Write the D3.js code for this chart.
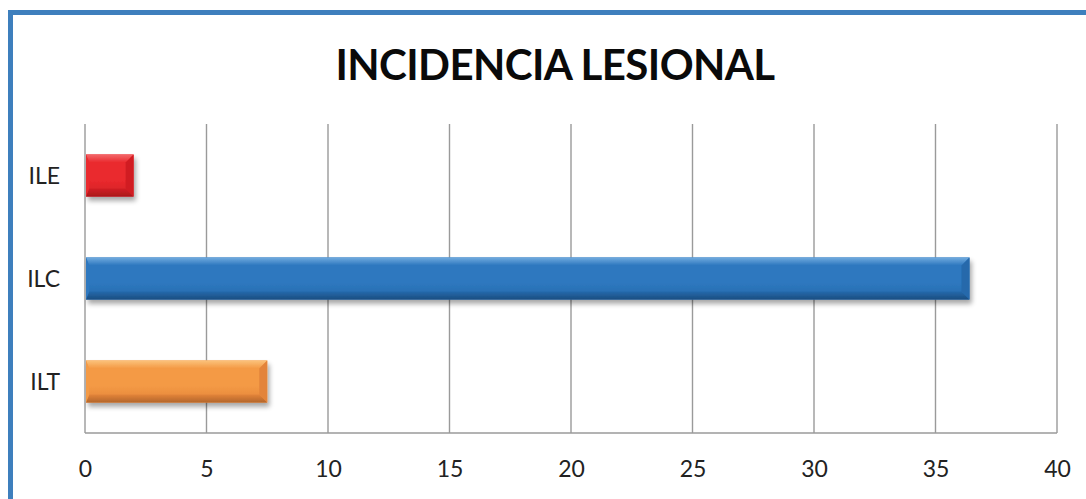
<!DOCTYPE html>
<html>
<head>
<meta charset="utf-8">
<script src="https://cdn.jsdelivr.net/npm/d3@7"></script>
<style>
  html, body { margin: 0; padding: 0; background: #fff; }
  svg { display: block; }
</style>
</head>
<body>
<svg id="chart" width="1086" height="499"></svg>
<script>
// Injury incidence indices
const categories = ["ILE", "ILC", "ILT"];
const values = [2, 36.4, 7.5];
const xTicks = [0, 5, 10, 15, 20, 25, 30, 35, 40];
const title = "INCIDENCIA LESIONAL";

// Bar palettes: [highlight, base, shade, dark edge]
const palettes = {
  ILE: ["#f36a6b", "#ea2a2e", "#d11f24", "#a9181b"],
  ILC: ["#72acdf", "#2e78bf", "#2569ab", "#1b4d80"],
  ILT: ["#fbc37c", "#f49a45", "#e3843a", "#b2652a"]
};

const W = 1086, H = 499;
const margin = { left: 85, right: 29, top: 124, bottom: 66 };
const svg = d3.select("#chart");
const defs = svg.append("defs");

// Frame
svg.append("path")
  .attr("d", `M10.5,${H + 5} V12.5 H${W + 5}`)
  .attr("fill", "none")
  .attr("stroke", "#3e7fbd")
  .attr("stroke-width", 5);

// Title
svg.append("text")
  .attr("x", 555)
  .attr("y", 80)
  .attr("text-anchor", "middle")
  .attr("font-family", "Lato, 'Open Sans', sans-serif")
  .attr("font-weight", 700)
  .attr("font-size", 42)
  .attr("letter-spacing", -0.6)
  .attr("fill", "#0a0a0a")
  .text(title);

const x = d3.scaleLinear().domain([0, 40]).range([margin.left, W - margin.right]);
const y = d3.scaleBand().domain(categories)
  .range([margin.top, H - margin.bottom])
  .paddingInner(0.59).paddingOuter(0.295);

// Vertical gridlines
svg.append("g")
  .selectAll("line")
  .data(xTicks)
  .join("line")
  .attr("x1", d => x(d)).attr("x2", d => x(d))
  .attr("y1", y.range()[0]).attr("y2", y.range()[1])
  .attr("stroke", "#9a9a9a")
  .attr("stroke-width", 1.4);

// Bottom axis line
svg.append("line")
  .attr("x1", x(0)).attr("x2", x(40))
  .attr("y1", y.range()[1]).attr("y2", y.range()[1])
  .attr("stroke", "#9a9a9a").attr("stroke-width", 1.4);

// X tick labels
const xAxis = d3.axisBottom(x).tickValues(xTicks).tickSize(0).tickPadding(0);
const gx = svg.append("g")
  .attr("transform", `translate(0,${y.range()[1] + 44})`)
  .call(xAxis);
gx.select(".domain").remove();
gx.selectAll("text")
  .attr("dy", 0)
  .attr("font-family", "Lato, 'Open Sans', sans-serif")
  .attr("font-size", 23)
  .attr("fill", "#222");

// Category labels
const yAxis = d3.axisLeft(y).tickSize(0).tickPadding(25);
const gy = svg.append("g")
  .attr("transform", `translate(${x(0)},0)`)
  .call(yAxis);
gy.select(".domain").remove();
gy.selectAll("text")
  .attr("dy", "0.35em")
  .attr("font-family", "Lato, 'Open Sans', sans-serif")
  .attr("font-size", 23)
  .attr("fill", "#222");

// Drop shadow for bars
const shadow = defs.append("filter").attr("id", "barShadow")
  .attr("x", "-10%").attr("y", "-30%").attr("width", "125%").attr("height", "180%");
shadow.append("feGaussianBlur").attr("in", "SourceAlpha").attr("stdDeviation", 2.5).attr("result", "blur");
shadow.append("feOffset").attr("dx", 2).attr("dy", 4).attr("result", "off");
shadow.append("feComponentTransfer").append("feFuncA").attr("type", "linear").attr("slope", 0.35);
const merge = shadow.append("feMerge");
merge.append("feMergeNode");
merge.append("feMergeNode").attr("in", "SourceGraphic");

// Face gradients
categories.forEach(c => {
  const p = palettes[c];
  const g = defs.append("linearGradient").attr("id", "face-" + c)
    .attr("x1", 0).attr("y1", 0).attr("x2", 0).attr("y2", 1);
  g.append("stop").attr("offset", "0%").attr("stop-color", p[1]);
  g.append("stop").attr("offset", "60%").attr("stop-color", p[1]);
  g.append("stop").attr("offset", "100%").attr("stop-color", p[2]);
  const t = defs.append("linearGradient").attr("id", "top-" + c)
    .attr("x1", 0).attr("y1", 0).attr("x2", 0).attr("y2", 1);
  t.append("stop").attr("offset", "0%").attr("stop-color", p[0]);
  t.append("stop").attr("offset", "100%").attr("stop-color", p[1]);
  const b = defs.append("linearGradient").attr("id", "bot-" + c)
    .attr("x1", 0).attr("y1", 0).attr("x2", 0).attr("y2", 1);
  b.append("stop").attr("offset", "0%").attr("stop-color", p[2]);
  b.append("stop").attr("offset", "100%").attr("stop-color", p[3]);
});

const bev = 8;
const bars = svg.append("g")
  .selectAll("g")
  .data(categories.map((c, i) => ({ c, v: values[i] })))
  .join("g")
  .attr("filter", "url(#barShadow)");

bars.each(function(d) {
  const g = d3.select(this);
  const p = palettes[d.c];
  const x0 = x(0) + 1, x1 = x(d.v);
  const y0 = y(d.c), y1 = y(d.c) + y.bandwidth();
  g.append("rect")
    .attr("x", x0).attr("y", y0)
    .attr("width", x1 - x0).attr("height", y1 - y0)
    .attr("fill", `url(#face-${d.c})`);
  // top bevel
  g.append("polygon")
    .attr("points", [[x0, y0], [x1, y0], [x1 - bev, y0 + bev], [x0 + bev * 0.4, y0 + bev]].join(" "))
    .attr("fill", `url(#top-${d.c})`);
  // bottom bevel
  g.append("polygon")
    .attr("points", [[x0, y1], [x1, y1], [x1 - bev, y1 - bev], [x0 + bev * 0.4, y1 - bev]].join(" "))
    .attr("fill", `url(#bot-${d.c})`);
  // right bevel
  g.append("polygon")
    .attr("points", [[x1, y0], [x1, y1], [x1 - bev, y1 - bev], [x1 - bev, y0 + bev]].join(" "))
    .attr("fill", p[2]);
  // left bevel
  g.append("polygon")
    .attr("points", [[x0, y0], [x0, y1], [x0 + bev * 0.4, y1 - bev], [x0 + bev * 0.4, y0 + bev]].join(" "))
    .attr("fill", p[1]);
});
</script>
</body>
</html>
